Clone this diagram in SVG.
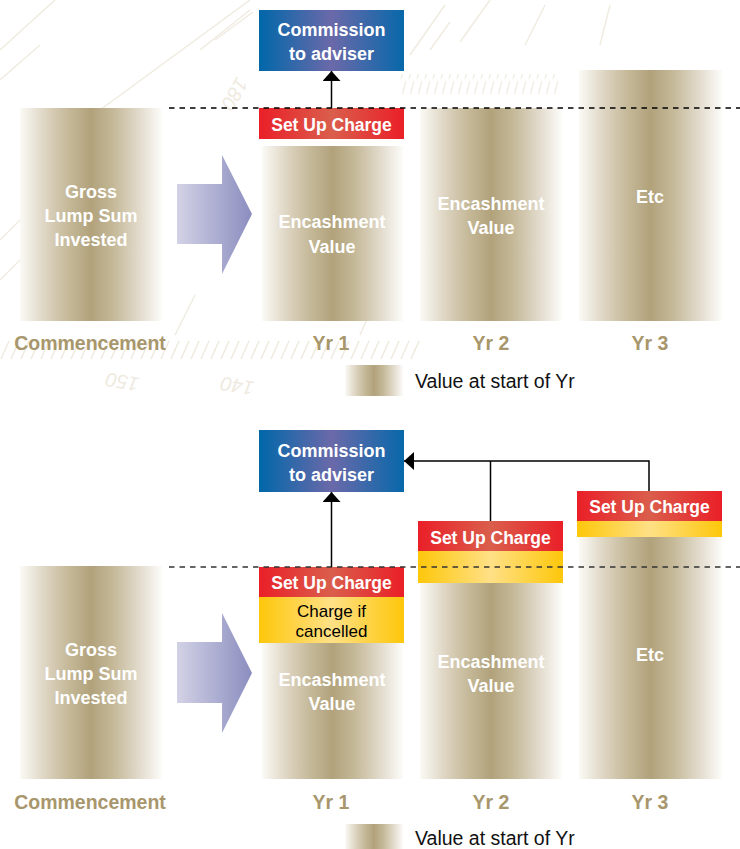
<svg xmlns="http://www.w3.org/2000/svg" width="740" height="849" viewBox="0 0 740 849">
<defs>
<linearGradient id="col" x1="0" y1="0" x2="1" y2="0">
<stop offset="0" stop-color="#fbfaf6"/>
<stop offset="0.18" stop-color="#ddd4c1"/>
<stop offset="0.34" stop-color="#c5b999"/>
<stop offset="0.5" stop-color="#b1a27b"/>
<stop offset="0.66" stop-color="#c5b999"/>
<stop offset="0.84" stop-color="#e2dbcc"/>
<stop offset="1" stop-color="#fdfcfa"/>
</linearGradient>
<linearGradient id="blue" x1="0" y1="0" x2="1" y2="0">
<stop offset="0" stop-color="#0067a9"/>
<stop offset="0.5" stop-color="#6b69a9"/>
<stop offset="1" stop-color="#0768aa"/>
</linearGradient>
<linearGradient id="red" x1="0" y1="0" x2="1" y2="0">
<stop offset="0" stop-color="#ea1f28"/>
<stop offset="0.5" stop-color="#da5e4c"/>
<stop offset="1" stop-color="#ea1f28"/>
</linearGradient>
<linearGradient id="yel" x1="0" y1="0" x2="1" y2="0">
<stop offset="0" stop-color="#fdc70a"/>
<stop offset="0.5" stop-color="#ffe086"/>
<stop offset="1" stop-color="#fdc70a"/>
</linearGradient>
<linearGradient id="lav" x1="0" y1="0" x2="1" y2="0">
<stop offset="0" stop-color="#d2d2e6"/>
<stop offset="1" stop-color="#8b8dbf"/>
</linearGradient>
<pattern id="ticks" patternUnits="userSpaceOnUse" width="10" height="20">
<line x1="1" y1="19" x2="9" y2="1" stroke="#efeadf" stroke-width="1.5"/>
</pattern>
<pattern id="ticks2" patternUnits="userSpaceOnUse" width="8" height="20">
<line x1="1" y1="19" x2="6" y2="1" stroke="#f1ece2" stroke-width="1.3"/>
</pattern>
<marker id="ah" viewBox="0 0 10 18" refX="10" refY="9" markerWidth="10" markerHeight="18" markerUnits="userSpaceOnUse" orient="auto">
<path d="M0,0 L10,9 L0,18 z" fill="#000"/>
</marker>
</defs>
<style>
.wt{font-family:"Liberation Sans",Arial,sans-serif;font-weight:bold;fill:#ffffff;text-anchor:middle;font-size:18px}
.sc{font-family:"Liberation Sans",Arial,sans-serif;font-weight:bold;fill:#ffffff;text-anchor:middle;font-size:17.5px}
.cc{font-family:"Liberation Sans",Arial,sans-serif;fill:#000;text-anchor:middle;font-size:17px}
.lb{font-family:"Liberation Sans",Arial,sans-serif;font-weight:bold;fill:#a8966c;text-anchor:middle;font-size:19.5px}
.lg{font-family:"Liberation Sans",Arial,sans-serif;fill:#111;font-size:19.5px}
.bgn{font-family:"Liberation Sans",Arial,sans-serif;fill:#efeadf;font-size:20px;font-style:italic}
.col{fill:url(#col)}
.dash{stroke:#000;stroke-width:1.5;stroke-dasharray:5.5 5;fill:none}
.con{stroke:#000;stroke-width:1.5;fill:none}
</style>
<rect width="740" height="849" fill="#ffffff"/>
<g id="background">
<rect x="0" y="340" width="420" height="20" fill="url(#ticks)"/>
<rect x="400" y="74" width="160" height="20" fill="url(#ticks2)"/>
<g stroke="#f0ebe0" stroke-width="1.4" fill="none">
<line x1="100" y1="110" x2="250" y2="0"/>
<line x1="0" y1="50" x2="55" y2="0"/>
<line x1="0" y1="80" x2="40" y2="45"/>
<line x1="0" y1="240" x2="40" y2="200"/>
<line x1="0" y1="280" x2="30" y2="250"/>
<line x1="410" y1="55" x2="445" y2="5"/>
<line x1="430" y1="50" x2="450" y2="22"/>
<line x1="460" y1="42" x2="490" y2="0"/>
<line x1="525" y1="45" x2="545" y2="5"/>
<line x1="600" y1="45" x2="610" y2="5"/>
<line x1="200" y1="50" x2="250" y2="10"/>
<line x1="215" y1="40" x2="253" y2="12"/>
<line x1="360" y1="335" x2="380" y2="290"/>
<line x1="175" y1="335" x2="195" y2="295"/>
</g>
<text class="bgn" transform="translate(237,76) rotate(120)">180</text>
<text class="bgn" transform="translate(140,378) rotate(190)">150</text>
<text class="bgn" transform="translate(255,382) rotate(190)">140</text>
</g>

<g id="top-commencement">
<rect class="col" x="20" y="108" width="142" height="213"/>
<text class="wt" x="91" y="198">Gross</text>
<text class="wt" x="91" y="222">Lump Sum</text>
<text class="wt" x="91" y="246">Invested</text>
</g>
<g id="top-arrow">
<path d="M177,184 H222 V155 L252,214 L222,274 V244 H177 Z" fill="url(#lav)"/>
</g>
<g id="top-commission">
<rect x="259" y="10" width="145" height="61" fill="url(#blue)"/>
<text class="wt" x="331.5" y="36">Commission</text>
<text class="wt" x="331.5" y="60">to adviser</text>
</g>
<g id="top-yr1">
<rect x="259" y="108" width="145" height="31" fill="url(#red)"/>
<text class="sc" x="331.5" y="131">Set Up Charge</text>
<rect class="col" x="262" y="146" width="141" height="175"/>
<text class="wt" x="332" y="228">Encashment</text>
<text class="wt" x="332" y="253">Value</text>
</g>
<g id="top-yr2">
<rect class="col" x="420" y="108" width="142" height="213"/>
<text class="wt" x="491" y="210">Encashment</text>
<text class="wt" x="491" y="234">Value</text>
</g>
<g id="top-yr3">
<rect class="col" x="579" y="70" width="143" height="251"/>
<text class="wt" x="650" y="203">Etc</text>
</g>
<g id="top-labels">
<text class="lb" x="90" y="350">Commencement</text>
<text class="lb" x="331" y="350">Yr 1</text>
<text class="lb" x="491" y="350">Yr 2</text>
<text class="lb" x="650" y="350">Yr 3</text>
</g>
<g id="top-legend">
<rect class="col" x="345" y="365" width="58" height="31"/>
<text class="lg" x="415" y="388">Value at start of Yr</text>
</g>

<g id="bottom-commencement">
<rect class="col" x="20" y="566" width="142" height="213"/>
<text class="wt" x="91" y="656">Gross</text>
<text class="wt" x="91" y="680">Lump Sum</text>
<text class="wt" x="91" y="704">Invested</text>
</g>
<g id="bottom-arrow">
<path d="M177,642 H222 V613 L252,673 L222,733 V703 H177 Z" fill="url(#lav)"/>
</g>
<g id="bottom-commission">
<rect x="259" y="430" width="145" height="62" fill="url(#blue)"/>
<text class="wt" x="331.5" y="457">Commission</text>
<text class="wt" x="331.5" y="481">to adviser</text>
</g>
<g id="bottom-yr1">
<rect x="259" y="567" width="145" height="30" fill="url(#red)"/>
<text class="sc" x="331.5" y="589">Set Up Charge</text>
<rect x="259" y="597" width="145" height="46" fill="url(#yel)"/>
<text class="cc" x="331.5" y="617">Charge if</text>
<text class="cc" x="331.5" y="637">cancelled</text>
<rect class="col" x="262" y="643" width="141" height="136"/>
<text class="wt" x="332" y="686">Encashment</text>
<text class="wt" x="332" y="710">Value</text>
</g>
<g id="bottom-yr2">
<rect x="418" y="521" width="145" height="30" fill="url(#red)"/>
<text class="sc" x="490.5" y="544">Set Up Charge</text>
<rect x="418" y="551" width="145" height="32" fill="url(#yel)"/>
<rect class="col" x="420" y="583" width="142" height="196"/>
<text class="wt" x="491" y="668">Encashment</text>
<text class="wt" x="491" y="692">Value</text>
</g>
<g id="bottom-yr3">
<rect x="577" y="491" width="145" height="30" fill="url(#red)"/>
<text class="sc" x="649.5" y="513">Set Up Charge</text>
<rect x="577" y="521" width="145" height="16" fill="url(#yel)"/>
<rect class="col" x="579" y="537" width="143" height="242"/>
<text class="wt" x="650" y="661">Etc</text>
</g>
<g id="bottom-labels">
<text class="lb" x="90" y="809">Commencement</text>
<text class="lb" x="331" y="809">Yr 1</text>
<text class="lb" x="491" y="809">Yr 2</text>
<text class="lb" x="650" y="809">Yr 3</text>
</g>
<g id="bottom-legend">
<rect class="col" x="345" y="824" width="58" height="25"/>
<text class="lg" x="415" y="845">Value at start of Yr</text>
</g>

<g id="connectors">
<line class="dash" x1="169" y1="108" x2="740" y2="108"/>
<line class="con" x1="331.5" y1="108" x2="331.5" y2="71" marker-end="url(#ah)"/>
<line class="dash" x1="169" y1="567" x2="740" y2="567" style="stroke:#333"/>
<line class="con" x1="331.5" y1="567" x2="331.5" y2="492" marker-end="url(#ah)"/>
<polyline class="con" points="649,491 649,461 404,461" marker-end="url(#ah)"/>
<line class="con" x1="490.5" y1="521" x2="490.5" y2="461"/>
</g>
</svg>
